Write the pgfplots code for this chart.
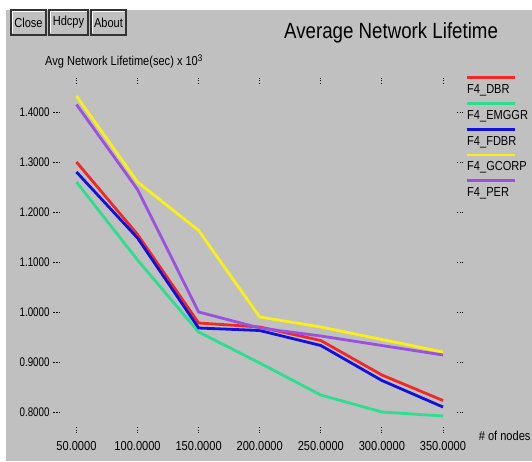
\documentclass[border=0pt]{standalone}
\usepackage{fontspec}
\setmainfont[FakeStretch=0.85]{Liberation Sans}
\newfontfamily\ynum[FakeStretch=0.78]{Liberation Sans}
\usepackage{pgfplots}
\usepackage{pgfplotstable}
\pgfplotsset{compat=1.18}
\definecolor{bg}{HTML}{C0C0C0}
\definecolor{cDBR}{HTML}{F02828}
\definecolor{cEMG}{HTML}{2CDE8E}
\definecolor{cFDBR}{HTML}{1010E0}
\definecolor{cGCO}{HTML}{F8F018}
\definecolor{cPER}{HTML}{9A50E0}
\pgfplotstableread{
x   DBR   EMGGR FDBR  GCORP PER
50  1.300 1.260 1.280 1.432 1.415
100 1.155 1.104 1.148 1.260 1.245
150 0.978 0.960 0.968 1.163 1.000
200 0.970 0.898 0.963 0.990 0.968
250 0.943 0.834 0.933 0.970 0.952
300 0.874 0.800 0.863 0.945 0.933
350 0.823 0.792 0.810 0.920 0.914
}\datatable
\begin{document}
\begin{tikzpicture}[x=1pt,y=1pt]
\fill[white] (0,0) rectangle (532,461);
\fill[bg] (6,0) rectangle (532,451);
\path[use as bounding box] (0,0) rectangle (532,461);
% buttons
\foreach \a/\b/\t in {11/46/Close,49/88/Hdcpy,91/126/About}{
  \fill[bg] (\a,426) rectangle (\b,451);
  \draw[white,line width=1pt] (\a+1.5,427.5) -- (\a+1.5,449.5) -- (\b-1.5,449.5);
  \draw[black!80,line width=1.2pt] (\a,426) rectangle (\b,451);
  \node[font=\fontsize{13}{14}\selectfont,inner sep=0] at ({(\a+\b)/2},438.5) {\t};
}
\node[anchor=base west,inner sep=0,font=\fontsize{22}{24}\selectfont] at (284,422) {Average Network Lifetime};
\node[anchor=base west,inner sep=0,font=\fontsize{13}{14}\selectfont] at (45,395) {Avg Network Lifetime(sec) x 10\raisebox{4.5pt}{\fontsize{9.5}{10}\selectfont 3}};
\begin{axis}[
  at={(53pt,28pt)}, anchor=south west, scale only axis,
  width=410pt, height=355pt,
  xmin=30.8, xmax=366.4, ymin=0.758, ymax=1.468,
  axis line style={draw=none},
  xtick={50,100,150,200,250,300,350},
  ytick={0.8,0.9,1.0,1.1,1.2,1.3,1.4},
  ytick pos=left,
  tick align=inside, major tick length=7pt,
  xtick style={draw=black,line width=0.9pt,dash pattern=on 0.9pt off 1.6pt},
  ytick style={draw=black,line width=0.7pt,dash pattern=on 2pt off 1pt},
  x tick label style={font=\fontsize{13}{14}\selectfont,yshift=-5pt},
  y tick label style={font=\ynum\fontsize{12.5}{14}\selectfont},
  /pgf/number format/.cd, fixed, fixed zerofill, precision=4, assume math mode=true,
  /pgfplots/.cd,
  xlabel={\# of nodes},
  every axis x label/.style={at={(rel axis cs:1.030,-0.0225)},anchor=base west,font=\fontsize{13}{14}\selectfont},
  legend style={at={(rel axis cs:1.0098,0.9830)},anchor=north west,draw=none,fill=none,inner sep=0pt,
    row sep=13.75pt,column sep=0pt,font=\fontsize{13}{14}\selectfont,
    nodes={inner sep=0pt,text height=9.5pt,text depth=2.5pt}},
  legend cell align=left,
  legend image code/.code={\draw[#1,overlay] (0pt,12.5pt) -- (48pt,12.5pt);},
  every axis plot/.append style={line width=2.8pt},
]
\addplot[cDBR] table[x=x,y=DBR] {\datatable};
\addplot[cEMG] table[x=x,y=EMGGR] {\datatable};
\addplot[cFDBR] table[x=x,y=FDBR] {\datatable};
\addplot[cGCO] table[x=x,y=GCORP] {\datatable};
\addplot[cPER] table[x=x,y=PER] {\datatable};
\legend{F4\_DBR,F4\_EMGGR,F4\_FDBR,F4\_GCORP,F4\_PER}
\end{axis}
\begin{axis}[
  at={(53pt,28pt)}, anchor=south west, scale only axis,
  width=410pt, height=355pt,
  xmin=30.8, xmax=366.4, ymin=0.758, ymax=1.468,
  axis line style={draw=none},
  xtick=\empty,
  ytick={0.8,0.9,1.0,1.1,1.2,1.3,1.4}, yticklabels={},
  ytick pos=right,
  tick align=inside, major tick length=7pt,
  ytick style={draw=black,line width=0.9pt,dash pattern=on 0.9pt off 1.6pt},
]
\end{axis}
\end{tikzpicture}
\end{document}
